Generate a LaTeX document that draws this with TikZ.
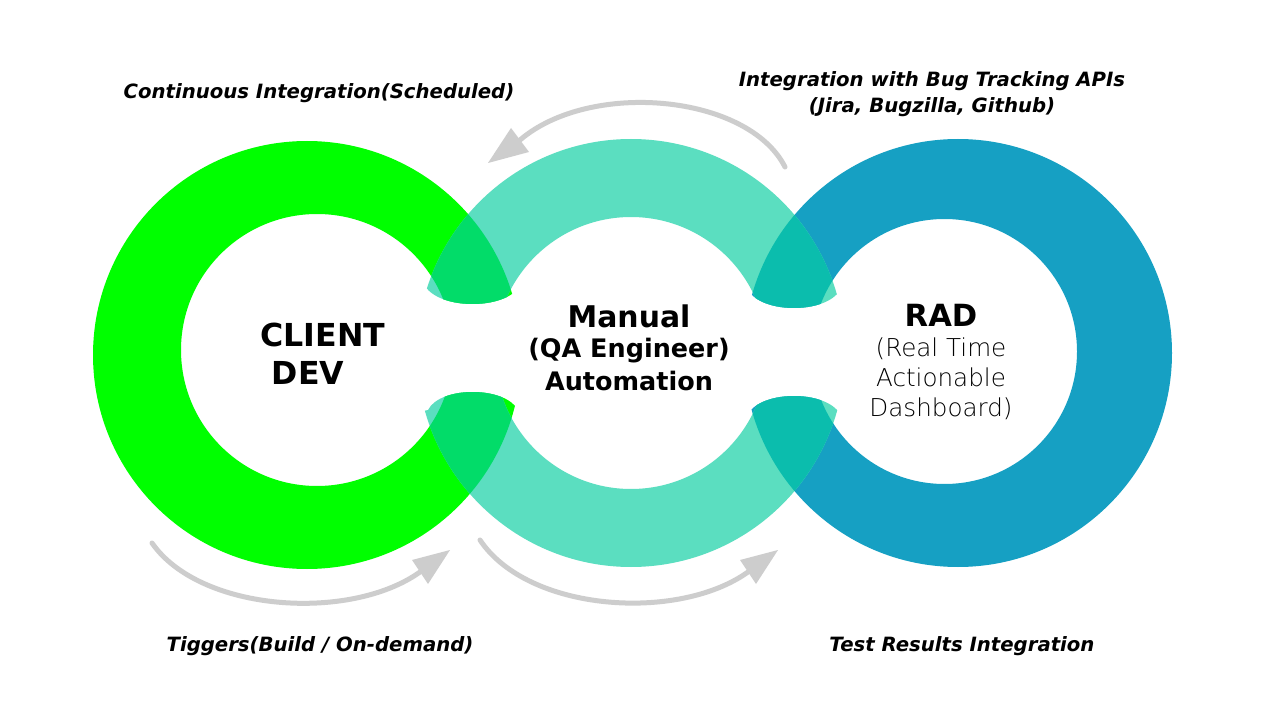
\documentclass[tikz,border=0pt]{standalone}
\usepackage{fontspec}
\setmainfont{DejaVu Sans}
\newfontfamily\lightfont{DejaVu Sans ExtraLight}
\definecolor{cgreen}{HTML}{00FF00}
\definecolor{cteal}{HTML}{5BDEC0}
\definecolor{cblue}{HTML}{16A0C3}
\definecolor{covone}{HTML}{02DC69}
\definecolor{covtwo}{HTML}{0BBDAD}
\definecolor{carrow}{HTML}{CDCDCD}
\tikzset{
  lab/.style={font=\fontsize{11.2}{14.7}\selectfont\bfseries\itshape, align=center, inner sep=0pt},
  garrow/.style={draw=carrow, line width=1mm, line cap=round},
  ghead/.style={fill=carrow},
  bigbold/.style={font=\fontsize{#1}{#1}\selectfont\bfseries, inner sep=0pt},
}
\begin{document}
\begin{tikzpicture}[x=0.2mm,y=-0.2mm]
\fill[white] (0,0) rectangle (1280,720);
\useasboundingbox (0,0) rectangle (1280,720);

% rings with the two gaps cut out
\begin{scope}[even odd rule]
  \clip (-10,-10) rectangle (1290,730)
    (380,280) -- (425,286) .. controls (440,310) and (505,310) .. (520,286) -- (560,280)
      -- (560,420) -- (518,410) .. controls (505,386) and (440,386) .. (428,410) -- (380,420) -- cycle
    (700,280) -- (748,290) .. controls (762,314) and (826,314) .. (840,290) -- (880,282)
      -- (880,420) -- (840,414) .. controls (826,390) and (762,390) .. (748,414) -- (700,420) -- cycle;
  \fill[cgreen] (307,355) circle (214) (317,350) circle (136);
  \fill[cblue] (958,353) circle (214) (944.5,351.5) circle (132.5);
  \fill[cteal] (631,353) circle (214) (631,353) circle (136);
  \begin{scope}
    \clip (307,355) circle (214) (317,350) circle (136);
    \fill[covone] (631,353) circle (214) (631,353) circle (136);
  \end{scope}
  \begin{scope}
    \clip (958,353) circle (214) (944.5,351.5) circle (132.5);
    \fill[covtwo] (631,353) circle (214) (631,353) circle (136);
  \end{scope}
\end{scope}

% grey curved arrows
\coordinate (t1) at (785,167);
\coordinate (b1) at (520,140);
\draw[garrow] (t1) .. controls (748,94) and (590,80) .. (b1);
\fill[ghead] (488,163) -- (529,152) -- (511,128) -- cycle;

\coordinate (t2) at (152,543);
\coordinate (b2) at (420,572);
\draw[garrow] (t2) .. controls (200,612) and (350,622) .. (b2);
\fill[ghead] (450,550) -- (428,584) -- (412,560) -- cycle;

\coordinate (t3) at (480,540);
\coordinate (b3) at (748,572);
\draw[garrow] (t3) .. controls (528,612) and (678,622) .. (b3);
\fill[ghead] (778,550) -- (756,584) -- (740,560) -- cycle;

% labels
\node[lab] (ci) at (319,93) {Continuous Integration(Scheduled)};
\node[lab] (bt) at (932,94) {Integration with Bug Tracking APIs\\(Jira, Bugzilla, Github)};
\node[lab] (tg) at (320,646) {Tiggers(Build / On-demand)};
\node[lab] (tr) at (962,646) {Test Results Integration};

\node[bigbold=18] (cl) at (323,335) {CLIENT};
\node[bigbold=18] (dev) at (308,373) {DEV};

\node[bigbold=17] (man) at (629,316) {Manual};
\node[bigbold=14.5] (qa) at (629,351) {(QA Engineer)};
\node[bigbold=14.5] (aut) at (629,381) {Automation};

\node[bigbold=17.4] (rad) at (941,315) {RAD};
\node[font=\lightfont\fontsize{14}{17}\selectfont, align=center, inner sep=0pt] (rt) at (941,379) {(Real Time\\Actionable\\Dashboard)};
\end{tikzpicture}
\end{document}
